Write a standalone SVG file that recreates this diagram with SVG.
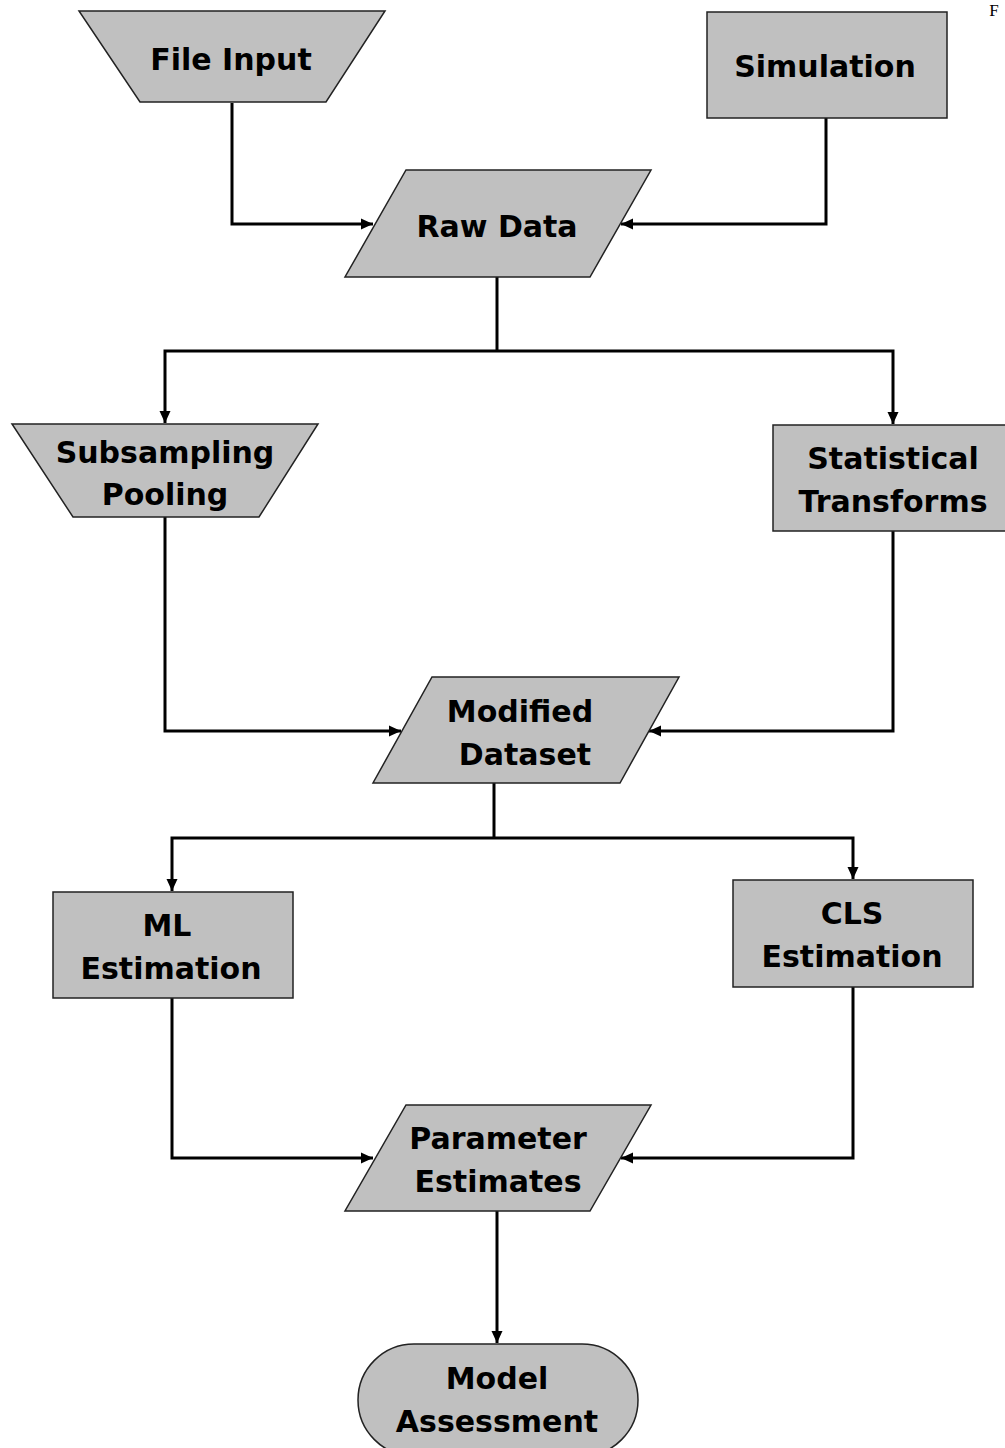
<svg xmlns="http://www.w3.org/2000/svg" width="1005" height="1448" viewBox="0 0 1005 1448">
<style>
.node{fill:#c0c0c0;stroke:#222;stroke-width:1.5}
.lbl{font-family:"DejaVu Sans",Verdana,sans-serif;font-weight:bold;font-size:30px;fill:#000;text-anchor:middle}
.conn{fill:none;stroke:#000;stroke-width:3}
</style>
<defs>
<marker id="ah" viewBox="0 0 12 12" refX="12" refY="6" markerWidth="12" markerHeight="12" markerUnits="userSpaceOnUse" orient="auto">
<path d="M0,0.5 L12,6 L0,11.5 z" fill="#000"/>
</marker>
</defs>
<rect width="1005" height="1448" fill="#fff"/>
<g id="connectors">
<polyline class="conn" points="232,103 232,224 373,224" marker-end="url(#ah)"/>
<polyline class="conn" points="826,118 826,224 621,224" marker-end="url(#ah)"/>
<polyline class="conn" points="497,277 497,351"/>
<polyline class="conn" points="497,351 165,351 165,423" marker-end="url(#ah)"/>
<polyline class="conn" points="497,351 893,351 893,424" marker-end="url(#ah)"/>
<polyline class="conn" points="165,517 165,731 401,731" marker-end="url(#ah)"/>
<polyline class="conn" points="893,531 893,731 649,731" marker-end="url(#ah)"/>
<polyline class="conn" points="494,782 494,838"/>
<polyline class="conn" points="494,838 172,838 172,891" marker-end="url(#ah)"/>
<polyline class="conn" points="494,838 853,838 853,879" marker-end="url(#ah)"/>
<polyline class="conn" points="172,998 172,1158 373,1158" marker-end="url(#ah)"/>
<polyline class="conn" points="853,987 853,1158 621,1158" marker-end="url(#ah)"/>
<polyline class="conn" points="497,1211 497,1343" marker-end="url(#ah)"/>
</g>
<g id="file-input">
<polygon class="node" points="79,11 385,11 326,102 140,102"/>
<text class="lbl" x="231" y="70">File Input</text>
</g>
<g id="simulation">
<rect class="node" x="707" y="12" width="240" height="106"/>
<text class="lbl" x="825" y="77">Simulation</text>
</g>
<g id="raw-data">
<polygon class="node" points="406,170 651,170 590,277 345,277"/>
<text class="lbl" x="497" y="237">Raw Data</text>
</g>
<g id="subsampling">
<polygon class="node" points="12,424 318,424 259,517 73,517"/>
<text class="lbl" x="165" y="463">Subsampling</text>
<text class="lbl" x="165" y="505">Pooling</text>
</g>
<g id="statistical">
<rect class="node" x="773" y="425" width="235" height="106"/>
<text class="lbl" x="893" y="469">Statistical</text>
<text class="lbl" x="893" y="512">Transforms</text>
</g>
<g id="modified-dataset">
<polygon class="node" points="432,677 679,677 620,783 373,783"/>
<text class="lbl" x="520" y="722">Modified</text>
<text class="lbl" x="525" y="765">Dataset</text>
</g>
<g id="ml-estimation">
<rect class="node" x="53" y="892" width="240" height="106"/>
<text class="lbl" x="167" y="936">ML</text>
<text class="lbl" x="171" y="979">Estimation</text>
</g>
<g id="cls-estimation">
<rect class="node" x="733" y="880" width="240" height="107"/>
<text class="lbl" x="852" y="924">CLS</text>
<text class="lbl" x="852" y="967">Estimation</text>
</g>
<g id="parameter-estimates">
<polygon class="node" points="406,1105 651,1105 590,1211 345,1211"/>
<text class="lbl" x="498" y="1149">Parameter</text>
<text class="lbl" x="498" y="1192">Estimates</text>
</g>
<g id="model-assessment">
<rect class="node" x="358" y="1344" width="280" height="112" rx="56" ry="56"/>
<text class="lbl" x="497" y="1389">Model</text>
<text class="lbl" x="497" y="1432">Assessment</text>
</g>
<text x="994" y="16" font-family="Liberation Serif,serif" font-size="17" text-anchor="middle" fill="#000">F</text>
</svg>
